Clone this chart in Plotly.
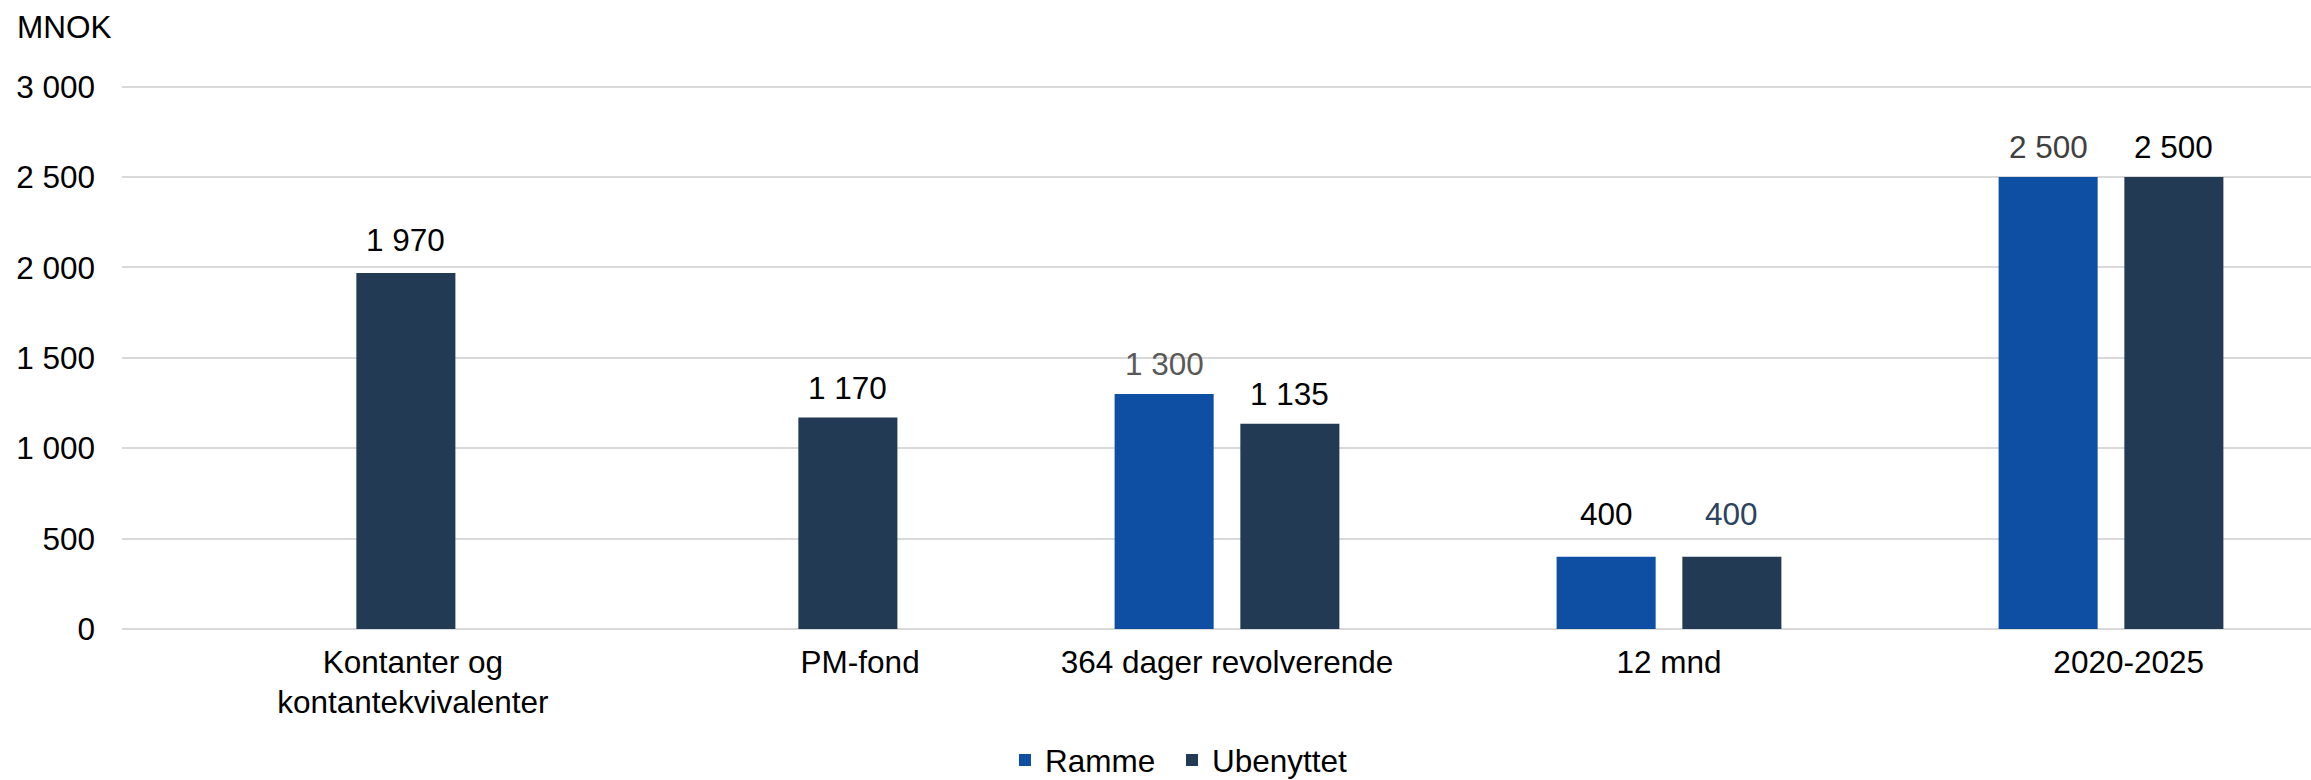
import plotly.graph_objects as go

categories = ["Kontanter og<br>kontantekvivalenter", "PM-fond", "364 dager revolverende", "12 mnd", "2020-2025"]
ramme = [None, None, 1300, 400, 2500]
ubenyttet = [1970, 1170, 1135, 400, 2500]
y_ticks = [0, 500, 1000, 1500, 2000, 2500, 3000]

# ---- styling ----
ramme_label_colors = ["#000000", "#000000", "#595959", "#000000", "#404040"]
ub_label_colors = ["#000000", "#000000", "#000000", "#2B4360", "#000000"]
ramme_label_lift = [30, 30, 30, 43, 30]   # px above bar top (label centre)
ub_label_lift = [33, 30, 30, 43, 30]
label_shift = [0.158, 0.17, 0.0, 0.0, 0.04]  # tick-label shift, category units

FONT = "Liberation Sans, Arial, sans-serif"
FS = 31.5
CAT_PX = 442.0
PLOT_W = 2189
BAR_OFF = 62.85  # px from category centre to bar centre

idx = list(range(len(categories)))

fig = go.Figure()
fig.add_trace(go.Bar(name="Ramme", x=idx, y=ramme, legendwidth=122,
                     marker=dict(color="#0E4FA4", line=dict(width=0))))
fig.add_trace(go.Bar(name="Ubenyttet", x=idx, y=ubenyttet,
                     marker=dict(color="#223A54", line=dict(width=0))))

for vals, cols, lifts, sign in ((ramme, ramme_label_colors, ramme_label_lift, -1),
                                (ubenyttet, ub_label_colors, ub_label_lift, 1)):
    for i, v in enumerate(vals):
        if v is None:
            continue
        fig.add_annotation(
            x=i, y=v, xref="x", yref="y",
            text=f"{v:,}".replace(",", " "),
            showarrow=False, xanchor="center", yanchor="middle",
            xshift=sign * BAR_OFF, yshift=lifts[i],
            font=dict(family=FONT, size=FS, color=cols[i]),
        )

fig.update_layout(
    width=2311, height=780,
    margin=dict(l=122, r=0, t=84, b=151, pad=0, autoexpand=False),
    paper_bgcolor="white", plot_bgcolor="white",
    font=dict(family=FONT, size=FS, color="#000000"),
    separators=", ",
    barmode="group", bargap=0.431, bargroupgap=0.2124,
    showlegend=True,
    legend=dict(orientation="h", xref="container", yref="container",
                x=1005 / 2311, xanchor="left", y=20 / 780, yanchor="middle",
                font=dict(family=FONT, size=FS, color="#000000"),
                itemwidth=30, bgcolor="rgba(0,0,0,0)"),
)
fig.update_xaxes(
    range=[-0.5, -0.5 + PLOT_W / CAT_PX],
    tickmode="array",
    tickvals=[i + s for i, s in zip(idx, label_shift)],
    ticktext=categories,
    showgrid=False, zeroline=False, showline=False, ticks="",
    ticklabelstandoff=11, automargin=False,
    tickfont=dict(family=FONT, size=FS, color="#000000"),
)
fig.update_yaxes(
    range=[0, 3015], tickmode="array", tickvals=y_ticks, tickformat=",",
    showgrid=True, gridcolor="#D9D9D9", gridwidth=2,
    zeroline=True, zerolinecolor="#D9D9D9", zerolinewidth=2,
    showline=False, ticks="", ticklabelstandoff=26, automargin=False,
    tickfont=dict(family=FONT, size=FS, color="#000000"),
)
fig.add_annotation(
    text="MNOK", xref="paper", yref="paper",
    x=(15 - 122) / PLOT_W, y=(629 - 27) / 545, xanchor="left", yanchor="middle",
    showarrow=False, font=dict(family=FONT, size=FS, color="#000000"),
)

fig.write_html("out.html")
